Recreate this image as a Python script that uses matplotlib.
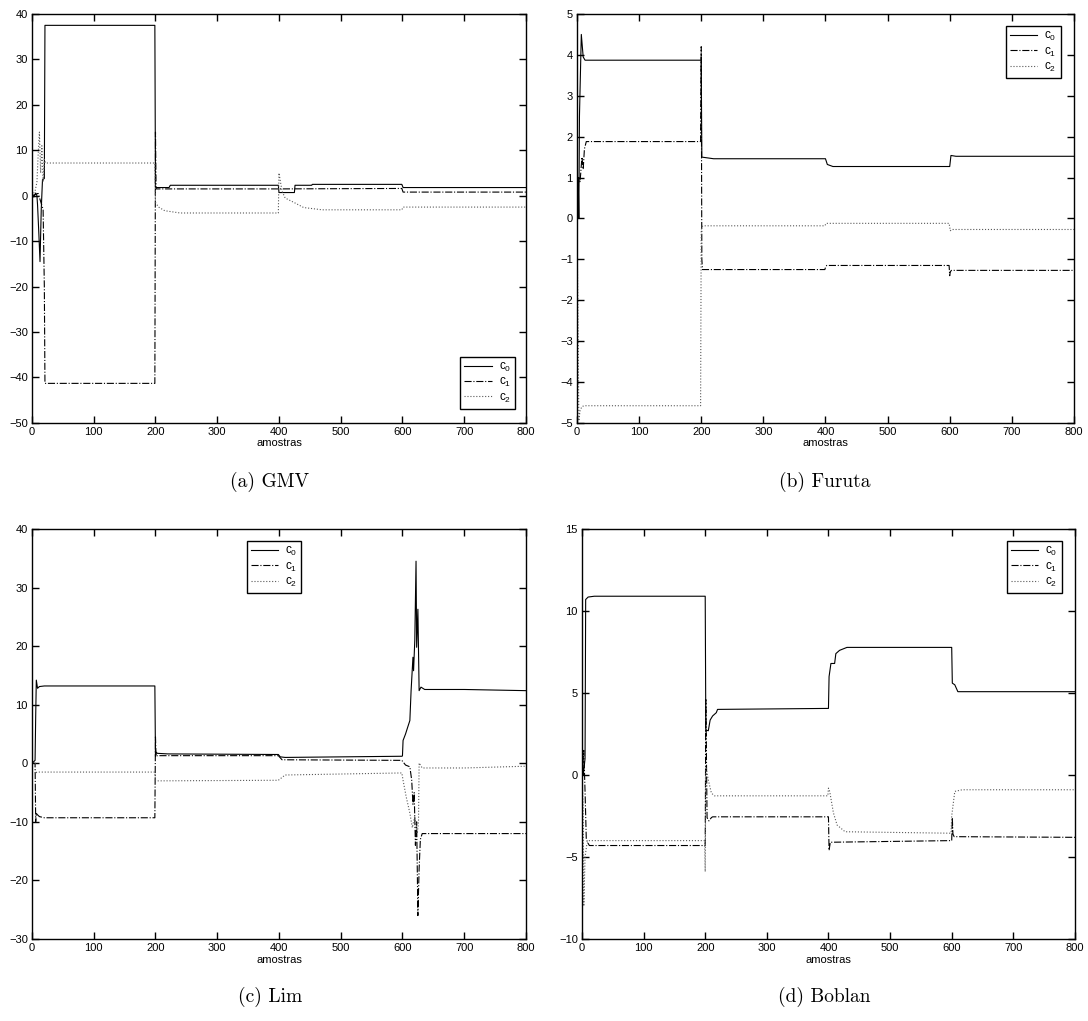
import matplotlib
matplotlib.use("Agg")
import matplotlib.pyplot as plt

plt.rcParams['font.family'] = ['Liberation Sans', 'DejaVu Sans']
plt.rcParams['axes.linewidth'] = 1.0

# eixo das amostras (vertices das curvas)
x_ticks = [0, 100, 200, 300, 400, 500, 600, 700, 800]
labels = [r'$\mathregular{c_0}$', r'$\mathregular{c_1}$', r'$\mathregular{c_2}$']

# (a) GMV
gmv_c0_x = [0, 3, 6, 8, 9, 11, 13, 15, 17, 20, 21, 199, 200, 222, 224, 399, 400, 425, 426, 453, 454, 599, 601, 800]
gmv_c0_y = [0.5, -0.3, 0.6, 0.0, -2, -8, -14.5, -3, 3.5, 3.8, 37.5, 37.5, 1.8, 1.8, 2.3, 2.3, 0.7, 0.7, 2.3, 2.3, 2.5, 2.5, 1.8, 1.8]
gmv_c1_x = [0, 10, 18, 20, 21, 199, 200, 201, 203, 399, 400, 599, 601, 800]
gmv_c1_y = [0, 0.5, -3, -20, -41.3, -41.3, 14, 1.5, 1.5, 1.5, 1.5, 1.6, 0.8, 0.8]
gmv_c2_x = [0, 5, 8, 10, 12, 14, 16, 18, 20, 22, 199, 200, 205, 215, 240, 399, 400, 405, 410, 426, 440, 470, 599, 601, 800]
gmv_c2_y = [0, 1, 3, 9, 14, 5, 11, 3, 8, 7.2, 7.2, -1.5, -2.5, -3.3, -3.8, -3.8, 5, 1, -0.5, -1.6, -2.6, -3.1, -3.1, -2.5, -2.5]

# (b) Furuta
fur_c0_x = [0, 2, 3, 4, 7, 10, 13, 200, 201, 220, 400, 403, 412, 600, 602, 610, 800]
fur_c0_y = [0, 1, 0, 2.5, 4.5, 3.95, 3.87, 3.87, 1.5, 1.46, 1.46, 1.32, 1.27, 1.27, 1.54, 1.52, 1.52]
fur_c1_x = [0, 3, 5, 8, 10, 12, 15, 199, 200, 201, 202, 399, 400, 402, 599, 600, 601, 603, 800]
fur_c1_y = [0, 1.0, 0.9, 1.5, 1.2, 1.7, 1.88, 1.88, 4.2, -1.0, -1.25, -1.25, -1.2, -1.15, -1.15, -1.4, -1.3, -1.27, -1.27]
fur_c2_x = [0, 2, 3, 5, 8, 12, 199, 200, 201, 203, 399, 401, 599, 601, 603, 800]
fur_c2_y = [0, -3, -4.95, -4.7, -4.6, -4.58, -4.58, -0.3, -0.2, -0.18, -0.18, -0.12, -0.12, -0.3, -0.27, -0.27]

# (c) Lim
lim_c0_x = [0, 5, 6, 7, 9, 12, 20, 199, 200, 201, 203, 220, 399, 402, 410, 599, 600, 601, 605, 608,
            612, 614, 617, 618, 620, 622, 623, 625, 627, 630, 636, 700, 800]
lim_c0_y = [0, 0.5, 8, 14.2, 12.8, 13.1, 13.2, 13.2, 1.2, 1.9, 1.7, 1.6, 1.5, 1.1, 1.0, 1.2, 1.25, 3.9, 5, 6,
            7.3, 12.4, 18.1, 15.8, 21, 34.5, 19.8, 26.3, 12.4, 13, 12.6, 12.6, 12.4]
lim_c1_x = [0, 5, 6, 7, 8, 12, 20, 199, 200, 201, 203, 399, 405, 599, 605, 612, 615, 617, 619, 621,
            623, 625, 627, 629, 632, 700, 800]
lim_c1_y = [0, 0, -10, -8.5, -8.7, -9.1, -9.3, -9.3, 4.5, 1.2, 1.3, 1.3, 0.6, 0.5, -0.3, -0.6, -2.9, -7, -5, -14,
            -10, -26, -18, -13, -12, -12, -12]
lim_c2_x = [0, 5, 6, 8, 199, 200, 202, 399, 410, 599, 601, 606, 612, 616, 620, 624, 626, 627, 632, 700, 800]
lim_c2_y = [0, 0, -1.8, -1.5, -1.5, -2.9, -3.0, -2.9, -2.0, -1.65, -2.9, -5.7, -8.5, -11, -9, -12, -10, 0.05, -0.8, -0.8, -0.5]

# (d) Boblan
bob_c0_x = [0, 1, 2, 3, 5, 6, 10, 20, 200, 201, 205, 208, 212, 218, 220, 400, 401, 404, 410, 412, 418, 430,
            600, 601, 605, 610, 800]
bob_c0_y = [0, 1, 0, 0.3, 1, 10.7, 10.85, 10.9, 10.9, 2.74, 2.7, 3.35, 3.6, 3.8, 4.0, 4.06, 6.0, 6.8, 6.8, 7.4, 7.6, 7.78,
            7.78, 5.6, 5.5, 5.08, 5.08]
bob_c1_x = [0, 3, 5, 7, 9, 12, 200, 201, 203, 206, 210, 212, 400, 401, 403, 600, 601, 602, 604, 800]
bob_c1_y = [0, 1.5, -1, -3.9, -4.1, -4.3, -4.3, 4.6, -2.6, -2.8, -2.6, -2.55, -2.55, -4.6, -4.1, -4.0, -2.6, -3.6, -3.76, -3.8]
bob_c2_x = [0, 2, 3, 5, 8, 12, 199, 200, 201, 205, 210, 215, 399, 400, 402, 408, 414, 427, 599, 600, 605, 617, 800]
bob_c2_y = [0, -2, -8, -5, -4.2, -4.0, -4.0, -5.9, 0.5, -0.3, -1.1, -1.27, -1.27, -0.8, -1.0, -2.3, -3.05, -3.46,
            -3.55, -2.5, -1.0, -0.9, -0.9]


def painel(ax, series, ylim, yticks, caption, cx, cy, leg_loc, leg_anchor):
    estilos = [dict(color='black', ls='-'),
               dict(color='black', ls='-.'),
               dict(color='0.35', ls=':')]
    for (xs, ys), st, lab in zip(series, estilos, labels):
        ax.plot(xs, ys, lw=0.8, label=lab, **st)
    ax.set_xlim(0, 800)
    ax.set_ylim(*ylim)
    ax.set_xticks(x_ticks)
    ax.set_yticks(yticks)
    ax.tick_params(direction='in', top=True, right=True, length=5, width=1.0, labelsize=8, pad=3)
    ax.set_xlabel('amostras', fontsize=8, labelpad=1)
    leg = ax.legend(loc=leg_loc, bbox_to_anchor=leg_anchor, fontsize=8.5, fancybox=False,
                    framealpha=1, edgecolor='black', handlelength=2.3, borderpad=0.35,
                    labelspacing=0.2, handletextpad=0.6)
    leg.get_frame().set_linewidth(1.0)
    fig.text(cx, cy, caption, fontsize=14, family='cmr10', ha='center', va='center')


fig = plt.figure(figsize=(10.88, 10.21), dpi=100)
ax_a = fig.add_axes([0.0294, 0.5858, 0.4540, 0.4005])
ax_b = fig.add_axes([0.5303, 0.5858, 0.4568, 0.4005])
ax_c = fig.add_axes([0.0294, 0.0803, 0.4540, 0.4016])
ax_d = fig.add_axes([0.5349, 0.0803, 0.4531, 0.4016])

painel(ax_a, [(gmv_c0_x, gmv_c0_y), (gmv_c1_x, gmv_c1_y), (gmv_c2_x, gmv_c2_y)],
       (-50, 40), range(-50, 41, 10), '(a) GMV', 0.248, 0.528, 'lower right', (0.99, 0.02))
painel(ax_b, [(fur_c0_x, fur_c0_y), (fur_c1_x, fur_c1_y), (fur_c2_x, fur_c2_y)],
       (-5, 5), range(-5, 6), '(b) Furuta', 0.758, 0.528, 'upper right', (0.985, 0.985))
painel(ax_c, [(lim_c0_x, lim_c0_y), (lim_c1_x, lim_c1_y), (lim_c2_x, lim_c2_y)],
       (-30, 40), range(-30, 41, 10), '(c) Lim', 0.248, 0.024, 'upper center', (0.49, 0.985))
painel(ax_d, [(bob_c0_x, bob_c0_y), (bob_c1_x, bob_c1_y), (bob_c2_x, bob_c2_y)],
       (-10, 15), range(-10, 16, 5), '(d) Boblan', 0.758, 0.024, 'upper right', (0.985, 0.985))

fig.savefig('out.png', dpi=100)
